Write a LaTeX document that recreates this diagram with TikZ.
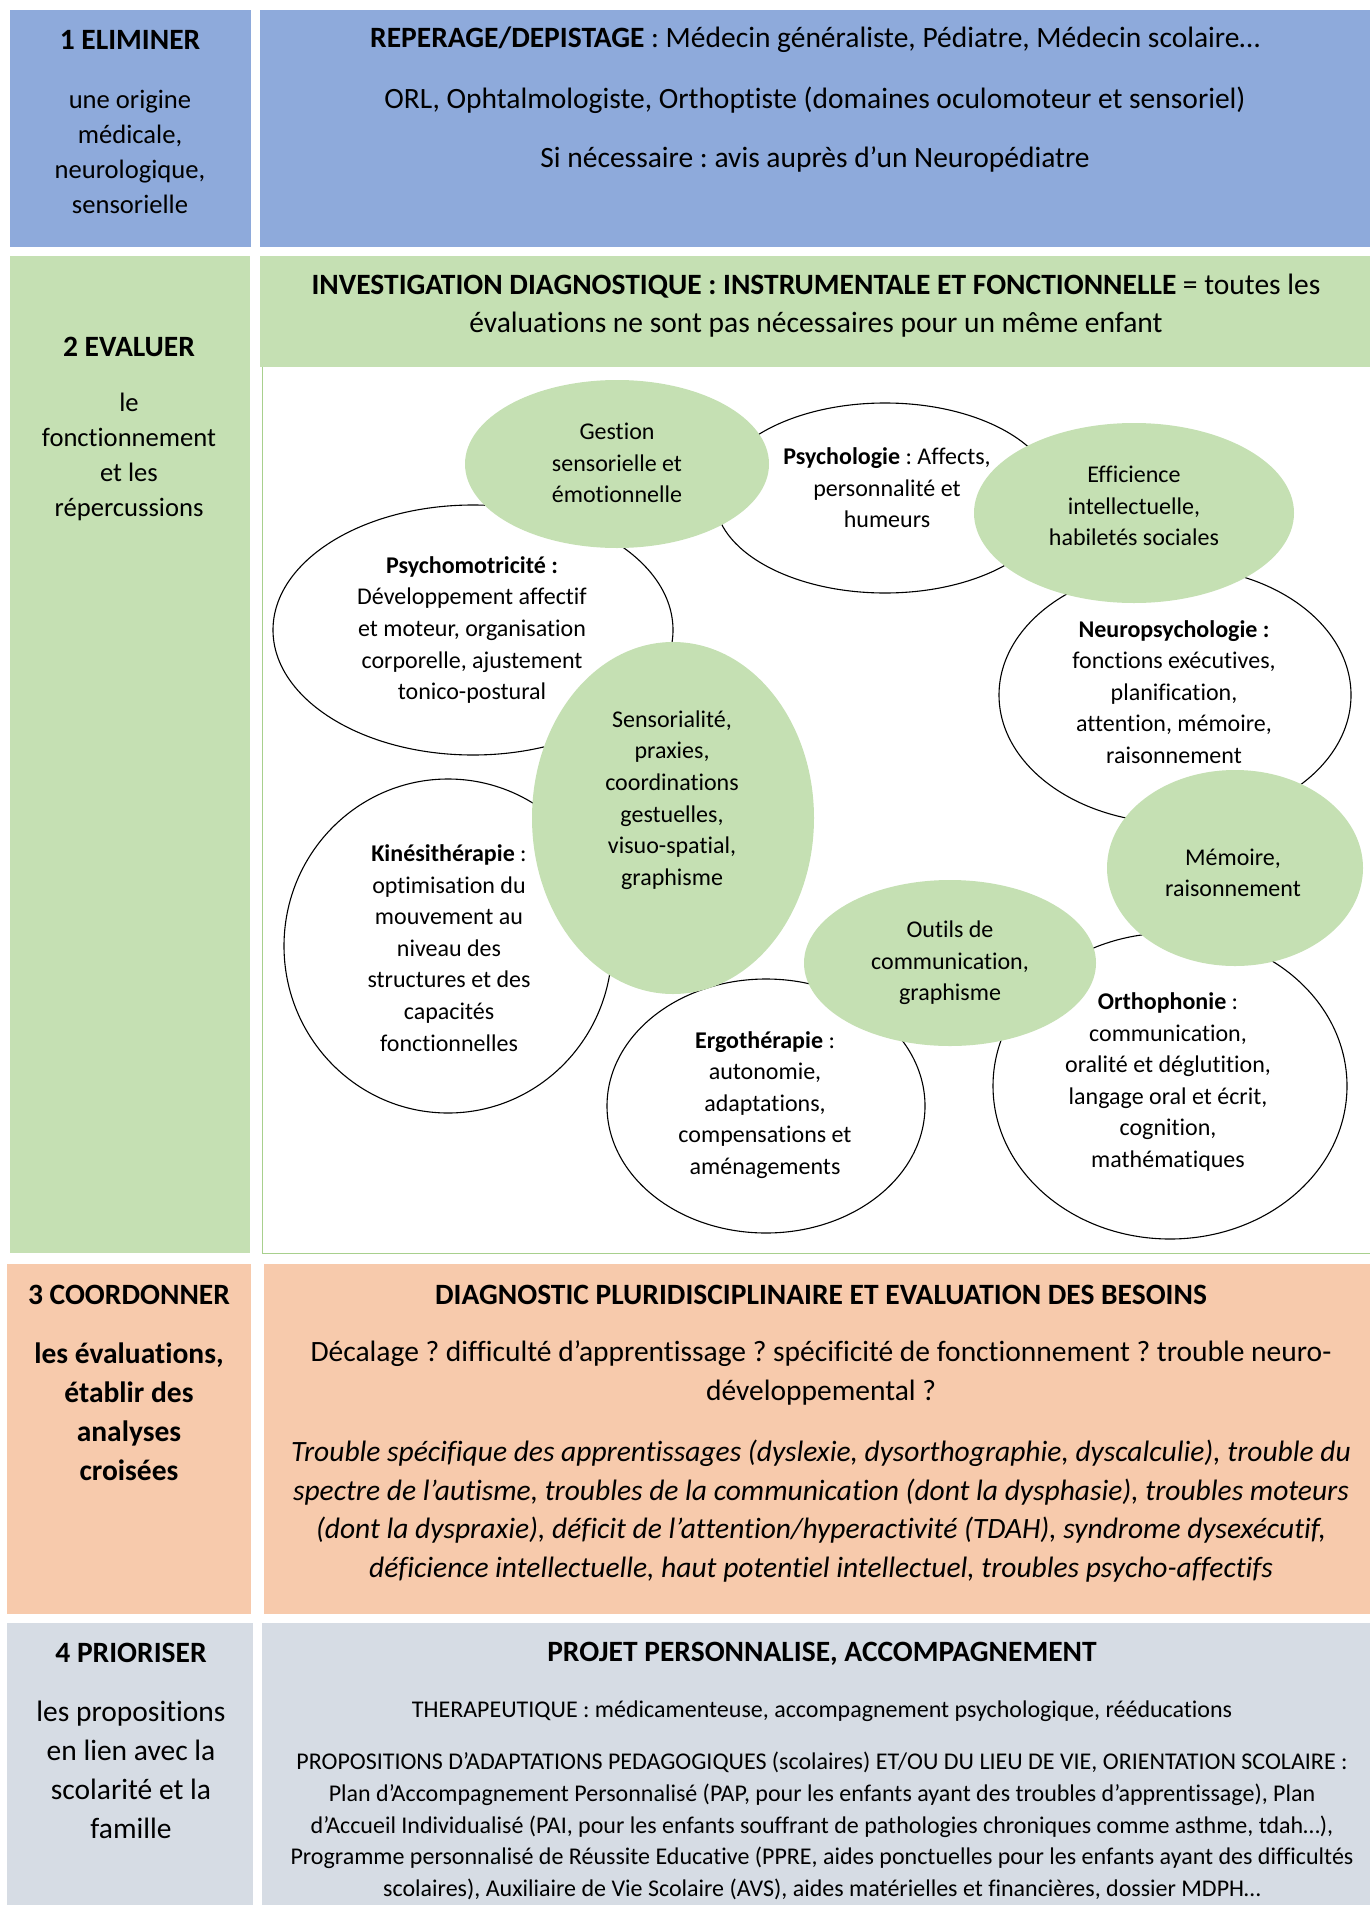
\documentclass[tikz,border=0pt]{standalone}
\usepackage{fontspec}
\setmainfont{Carlito}[Ligatures=CommonOff]
\usepackage{xcolor}
\definecolor{elimblue}{HTML}{8EAADB}
\definecolor{evalgreen}{HTML}{C5E0B3}
\definecolor{framegreen}{HTML}{A8D08D}
\definecolor{coordorange}{HTML}{F7CAAC}
\definecolor{priogray}{HTML}{D6DCE4}
\frenchspacing

\tikzset{
	bubble/.style={draw=black, line width=1.1pt, fill=white},
	greenbubble/.style={fill=evalgreen},
	bubtext/.style={align=center, font=\fontsize{24}{31.6}\selectfont},
	sidetext/.style={align=center, font=\fontsize{26.6}{35}\selectfont},
	bigtext/.style={align=center, font=\fontsize{29.5}{39}\selectfont},
	smalltext/.style={align=center, font=\fontsize{24}{31.6}\selectfont},
}

\begin{document}
\begin{tikzpicture}[x=1pt, y=-1pt]
	\useasboundingbox (0,0) rectangle (1370,1905);
	
	% 1 ELIMINER
	\fill[elimblue] (10,10) rectangle (251,247);
	\fill[elimblue] (260,10) rectangle (1370,247);
	\node[bigtext] (elim) at (130,40) {\textbf{1 ELIMINER}};
	\node[sidetext] (elimtxt) at (130,152) {une origine\\médicale,\\neurologique,\\sensorielle};
	\node[bigtext] (repere) at (815,40) {\textbf{REPERAGE/DEPISTAGE} : Médecin généraliste, Pédiatre, Médecin scolaire…};
	\node[bigtext] (orl) at (815,100) {ORL, Ophtalmologiste, Orthoptiste (domaines oculomoteur et sensoriel)};
	\node[bigtext] (neuroped) at (815,159) {Si nécessaire : avis auprès d’un Neuropédiatre};
	
	% 2 EVALUER
	\fill[evalgreen] (10,256) rectangle (250,1253);
	\fill[evalgreen] (260,256) rectangle (1370,367);
	\draw[framegreen, line width=1pt] (262,367) -- (262,1253) -- (1370,1253);
	\node[bigtext] (eval) at (129,347) {\textbf{2 EVALUER}};
	\node[sidetext] (evaltxt) at (129,457) {le\\fonctionnement\\et les\\répercussions};
	\node[align=center, font=\fontsize{29.5}{38}\selectfont] (investig) at (816,306)
		{\textbf{INVESTIGATION DIAGNOSTIQUE : INSTRUMENTALE ET FONCTIONNELLE} = toutes les\\évaluations ne sont pas nécessaires pour un même enfant};
	
	% white bubbles
	\draw[bubble] (885,498) ellipse [x radius=170pt, y radius=95pt];
	\draw[bubble] (473,630) ellipse [x radius=200pt, y radius=125pt];
	\draw[bubble] (1175,695) ellipse [x radius=176pt, y radius=128pt];
	\draw[bubble] (448,946) ellipse [x radius=164pt, y radius=167pt];
	\draw[bubble] (766,1106) ellipse [x radius=159pt, y radius=127pt];
	\draw[bubble] (1170,1086) ellipse [x radius=177pt, y radius=153pt];
	
	% green bubbles
	\fill[greenbubble] (617,464) ellipse [x radius=152pt, y radius=84pt];
	\fill[greenbubble] (1134,513) ellipse [x radius=160pt, y radius=90pt];
	\fill[greenbubble] (673,818) ellipse [x radius=141pt, y radius=176pt];
	\fill[greenbubble] (950,963) ellipse [x radius=146pt, y radius=83pt];
	\fill[greenbubble] (1235,868) ellipse [x radius=128pt, y radius=98pt];
	
	\node[bubtext] (gestion) at (617,463) {Gestion\\sensorielle et\\émotionnelle};
	\node[bubtext] (psycho) at (887,488) {\textbf{Psychologie} : Affects,\\personnalité et\\humeurs};
	\node[bubtext] (effic) at (1134,506) {Efficience\\intellectuelle,\\habiletés sociales};
	\node[bubtext] (psychomot) at (472,630) {\textbf{Psychomotricité :}\\Développement affectif\\et moteur, organisation\\corporelle, ajustement\\tonico-postural};
	\node[bubtext] (neuro) at (1174,692) {\textbf{Neuropsychologie :}\\fonctions exécutives,\\planification,\\attention, mémoire,\\raisonnement};
	\node[bubtext] (sensor) at (672,800) {Sensorialité,\\praxies,\\coordinations\\gestuelles,\\visuo-spatial,\\graphisme};
	\node[bubtext] (memoire) at (1233,873) {Mémoire,\\raisonnement};
	\node[bubtext] (kine) at (449,948) {\textbf{Kinésithérapie} :\\optimisation du\\mouvement au\\niveau des\\structures et des\\capacités\\fonctionnelles};
	\node[bubtext] (outils) at (950,963) {Outils de\\communication,\\graphisme};
	\node[bubtext] (ergo) at (765,1105) {\textbf{Ergothérapie} :\\autonomie,\\adaptations,\\compensations et\\aménagements};
	\node[bubtext] (ortho) at (1168,1082) {\textbf{Orthophonie} :\\communication,\\oralité et déglutition,\\langage oral et écrit,\\cognition,\\mathématiques};
	
	% 3 COORDONNER
	\fill[coordorange] (7,1264) rectangle (251,1614);
	\fill[coordorange] (264,1264) rectangle (1370,1614);
	\node[bigtext] (coord) at (129,1295) {\textbf{3 COORDONNER}};
	\node[bigtext] (coordtxt) at (129,1412) {\textbf{les évaluations,}\\\textbf{établir des}\\\textbf{analyses}\\\textbf{croisées}};
	\node[bigtext] (diag) at (821,1295) {\textbf{DIAGNOSTIC PLURIDISCIPLINAIRE ET EVALUATION DES BESOINS}};
	\node[bigtext] (decal) at (821,1373) {Décalage ? difficulté d’apprentissage ? spécificité de fonctionnement ? trouble neuro-\\développemental ?};
	\node[bigtext, font=\fontsize{29.5}{38.6}\selectfont\itshape] (troubles) at (821,1511)
		{Trouble spécifique des apprentissages (dyslexie, dysorthographie, dyscalculie), trouble du\\spectre de l’autisme, troubles de la communication (dont la dysphasie), troubles moteurs\\(dont la dyspraxie), déficit de l’attention/hyperactivité (TDAH), syndrome dysexécutif,\\déficience intellectuelle, haut potentiel intellectuel, troubles psycho-affectifs};
	
	% 4 PRIORISER
	\fill[priogray] (7,1623) rectangle (253,1905);
	\fill[priogray] (262,1623) rectangle (1370,1905);
	\node[bigtext] (prio) at (131,1653) {\textbf{4 PRIORISER}};
	\node[bigtext] (priotxt) at (131,1770) {les propositions\\en lien avec la\\scolarité et la\\famille};
	\node[bigtext] (projet) at (822,1654) {\textbf{PROJET PERSONNALISE, ACCOMPAGNEMENT}};
	\node[smalltext] (therap) at (822,1711) {THERAPEUTIQUE : médicamenteuse, accompagnement psychologique, rééducations};
	\node[smalltext] (adapt) at (822,1826)
		{PROPOSITIONS D’ADAPTATIONS PEDAGOGIQUES (scolaires) ET/OU DU LIEU DE VIE, ORIENTATION SCOLAIRE :\\Plan d’Accompagnement Personnalisé (PAP, pour les enfants ayant des troubles d’apprentissage), Plan\\d’Accueil Individualisé (PAI, pour les enfants souffrant de pathologies chroniques comme asthme, tdah…),\\Programme personnalisé de Réussite Educative (PPRE, aides ponctuelles pour les enfants ayant des difficultés\\scolaires), Auxiliaire de Vie Scolaire (AVS), aides matérielles et financières, dossier MDPH…};
\end{tikzpicture}
\end{document}
